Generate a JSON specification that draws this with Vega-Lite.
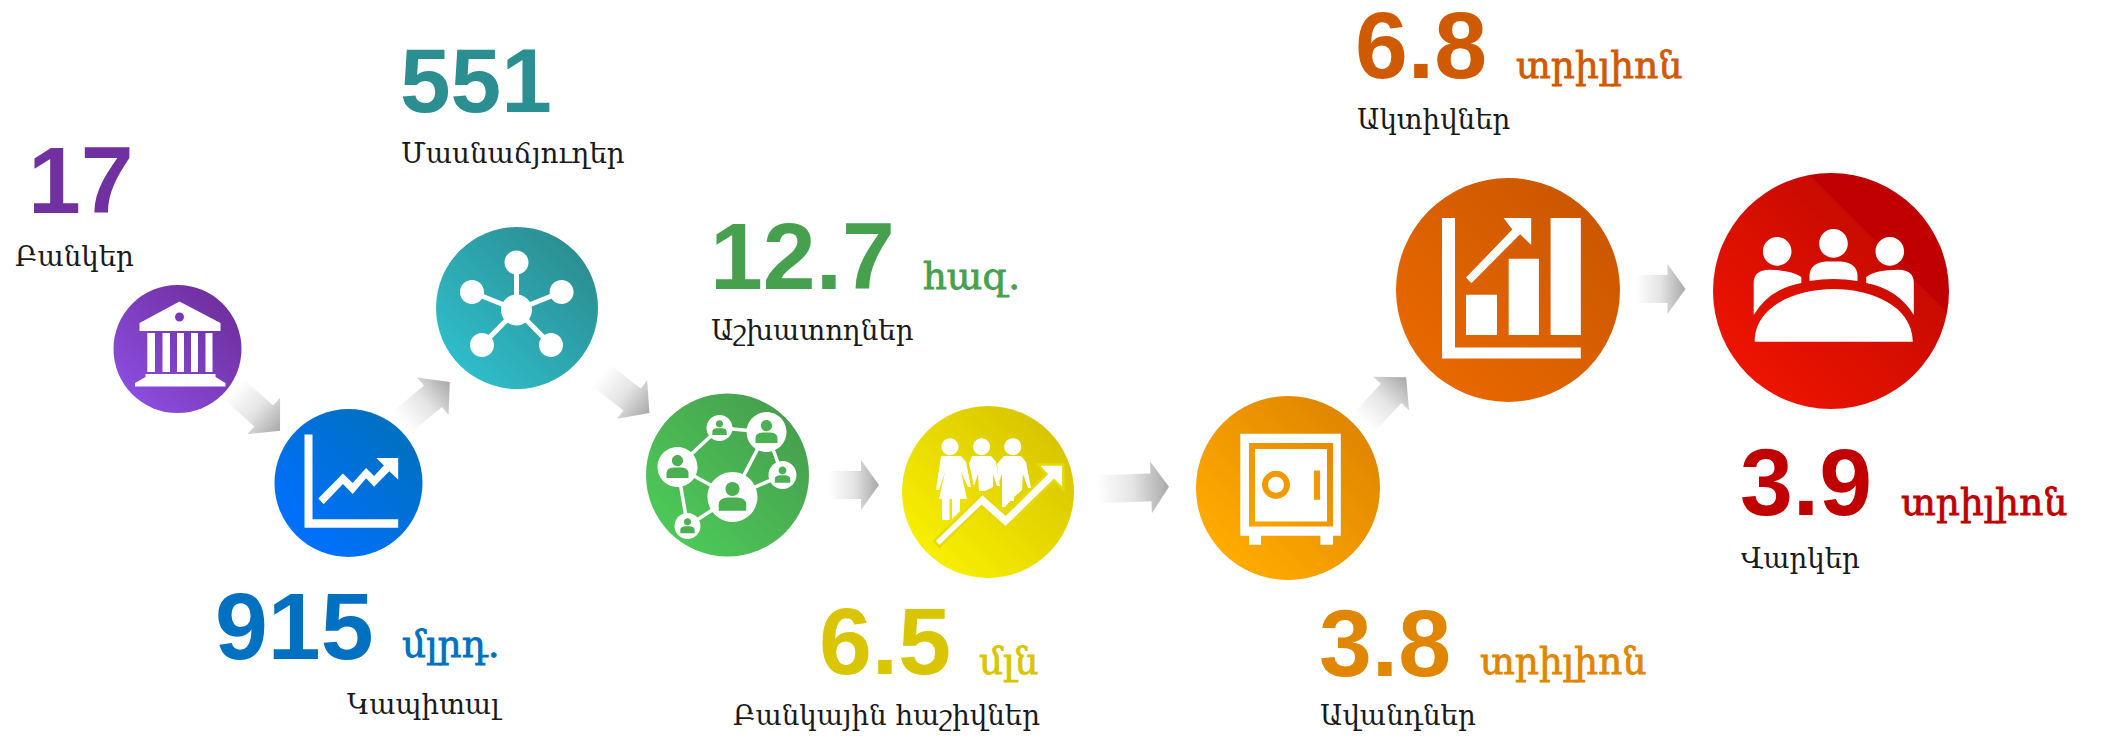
{
"$schema":"https://vega.github.io/schema/vega-lite/v6.json",
"width":2102,"height":739,"padding":0,"autosize":{"type":"none"},
"background":"white",
"config":{"view":{"stroke":null}},
"datasets":{
"nodes":[
{"item":"Բանկեր","x":177.5,"y":349},
{"item":"Կապիտալ","x":348.5,"y":483},
{"item":"Մասնաճյուղեր","x":517,"y":308},
{"item":"Աշխատողներ","x":727.5,"y":475},
{"item":"Բանկային հաշիվներ","x":988,"y":492},
{"item":"Ավանդներ","x":1288,"y":488},
{"item":"Ակտիվներ","x":1508,"y":290},
{"item":"Վարկեր","x":1831,"y":291}
],
"arrows":[
{"group":"short","x":257,"y":410,"angle":42},
{"group":"short","x":426,"y":402,"angle":-40},
{"group":"short","x":625,"y":394,"angle":38},
{"group":"short","x":1385,"y":400,"angle":-47},
{"group":"mid","x":854,"y":485,"angle":0},
{"group":"mid","x":1660.5,"y":289,"angle":0},
{"group":"long","x":1133,"y":488,"angle":-2}
],
"texts":[
{"item":"Բանկեր","kind":"number","text":"17","x":28,"y":213},
{"item":"Բանկեր","kind":"label","text":"Բանկեր","x":15,"y":266},
{"item":"Մասնաճյուղեր","kind":"number2","text":"551","x":400,"y":112},
{"item":"Մասնաճյուղեր","kind":"label","text":"Մասնաճյուղեր","x":401,"y":163},
{"item":"Կապիտալ","kind":"number","text":"915","x":215,"y":659},
{"item":"Կապիտալ","kind":"unit","text":"մլրդ.","x":402,"y":657},
{"item":"Կապիտալ","kind":"label","text":"Կապիտալ","x":347,"y":714},
{"item":"Աշխատողներ","kind":"number","text":"12.7","x":710,"y":289},
{"item":"Աշխատողներ","kind":"unit","text":"հազ.","x":923,"y":289},
{"item":"Աշխատողներ","kind":"label","text":"Աշխատողներ","x":711,"y":340},
{"item":"Բանկային հաշիվներ","kind":"number","text":"6.5","x":819,"y":674},
{"item":"Բանկային հաշիվներ","kind":"unit","text":"մլն","x":979,"y":674},
{"item":"Բանկային հաշիվներ","kind":"label","text":"Բանկային հաշիվներ","x":733,"y":725},
{"item":"Ավանդներ","kind":"number","text":"3.8","x":1319,"y":676},
{"item":"Ավանդներ","kind":"unit","text":"տրիլիոն","x":1480,"y":674},
{"item":"Ավանդներ","kind":"label","text":"Ավանդներ","x":1320,"y":725},
{"item":"Ակտիվներ","kind":"number","text":"6.8","x":1355,"y":78},
{"item":"Ակտիվներ","kind":"unit","text":"տրիլիոն","x":1516,"y":78},
{"item":"Ակտիվներ","kind":"label","text":"Ակտիվներ","x":1357,"y":129},
{"item":"Վարկեր","kind":"number","text":"3.9","x":1740,"y":515},
{"item":"Վարկեր","kind":"unit","text":"տրիլիոն","x":1901,"y":515},
{"item":"Վարկեր","kind":"label","text":"Վարկեր","x":1741,"y":568}
]
},
"encoding":{
"x":{"field":"x","type":"quantitative","axis":null,"scale":{"domain":[0,2102],"range":[0,2102],"nice":false,"zero":false}},
"y":{"field":"y","type":"quantitative","axis":null,"scale":{"domain":[0,739],"range":[0,739],"nice":false,"zero":false}}
},
"layer":[
{"data":{"name":"arrows"},"transform":[{"filter":"datum.group==='short'"}],
"mark":{"type":"point","filled":true,"opacity":1,"size":4,"shape":"M-31 -14 L9 -14 L9 -24.5 L31 0 L9 24.5 L9 14 L-31 14 Z","color":{"gradient":"linear","x1":0,"y1":0,"x2":1,"y2":0,"stops":[{"offset":0,"color":"#ffffff"},{"offset":0.5,"color":"#e4e4e4"},{"offset":1,"color":"#a8a8a8"}]}},
"encoding":{"angle":{"field":"angle","type":"quantitative","scale":null}}},
{"data":{"name":"arrows"},"transform":[{"filter":"datum.group==='mid'"}],
"mark":{"type":"point","filled":true,"opacity":1,"size":4,"shape":"M-25 -14 L7 -14 L7 -25 L25 0 L7 25 L7 14 L-25 14 Z","color":{"gradient":"linear","x1":0,"y1":0,"x2":1,"y2":0,"stops":[{"offset":0,"color":"#ffffff"},{"offset":0.5,"color":"#e4e4e4"},{"offset":1,"color":"#a8a8a8"}]}},
"encoding":{"angle":{"field":"angle","type":"quantitative","scale":null}}},
{"data":{"name":"arrows"},"transform":[{"filter":"datum.group==='long'"}],
"mark":{"type":"point","filled":true,"opacity":1,"size":4,"shape":"M-36 -14 L18 -14 L18 -26 L36 0 L18 26 L18 14 L-36 14 Z","color":{"gradient":"linear","x1":0,"y1":0,"x2":1,"y2":0,"stops":[{"offset":0,"color":"#ffffff"},{"offset":0.5,"color":"#e4e4e4"},{"offset":1,"color":"#a8a8a8"}]}},
"encoding":{"angle":{"field":"angle","type":"quantitative","scale":null}}},

{"data":{"name":"nodes"},"transform":[{"filter":"datum.item==='Բանկեր'"}],
"mark":{"type":"point","filled":true,"opacity":1,"shape":"circle","size":16384,"color":{"gradient":"linear","x1":0,"y1":1,"x2":1,"y2":0,"stops":[{"offset":0.15,"color":"#8a4cdc"},{"offset":0.85,"color":"#7030a0"}]}}},
{"data":{"name":"nodes"},"transform":[{"filter":"datum.item==='Կապիտալ'"}],
"mark":{"type":"point","filled":true,"opacity":1,"shape":"circle","size":21904,"color":{"gradient":"linear","x1":0,"y1":1,"x2":1,"y2":0,"stops":[{"offset":0.15,"color":"#0070ff"},{"offset":0.85,"color":"#0070c0"}]}}},
{"data":{"name":"nodes"},"transform":[{"filter":"datum.item==='Մասնաճյուղեր'"}],
"mark":{"type":"point","filled":true,"opacity":1,"shape":"circle","size":26244,"color":{"gradient":"linear","x1":0,"y1":1,"x2":1,"y2":0,"stops":[{"offset":0.15,"color":"#2fbcca"},{"offset":0.85,"color":"#2b8f92"}]}}},
{"data":{"name":"nodes"},"transform":[{"filter":"datum.item==='Աշխատողներ'"}],
"mark":{"type":"point","filled":true,"opacity":1,"shape":"circle","size":26569,"color":{"gradient":"linear","x1":0,"y1":1,"x2":1,"y2":0,"stops":[{"offset":0.15,"color":"#4dc858"},{"offset":0.85,"color":"#47a04e"}]}}},
{"data":{"name":"nodes"},"transform":[{"filter":"datum.item==='Բանկային հաշիվներ'"}],
"mark":{"type":"point","filled":true,"opacity":1,"shape":"circle","size":29584,"color":{"gradient":"linear","x1":0,"y1":1,"x2":1,"y2":0,"stops":[{"offset":0.15,"color":"#f7ef00"},{"offset":0.85,"color":"#d9c500"}]}}},
{"data":{"name":"nodes"},"transform":[{"filter":"datum.item==='Ավանդներ'"}],
"mark":{"type":"point","filled":true,"opacity":1,"shape":"circle","size":33856,"color":{"gradient":"linear","x1":0,"y1":1,"x2":1,"y2":0,"stops":[{"offset":0.15,"color":"#ffab00"},{"offset":0.85,"color":"#e08600"}]}}},
{"data":{"name":"nodes"},"transform":[{"filter":"datum.item==='Ակտիվներ'"}],
"mark":{"type":"point","filled":true,"opacity":1,"shape":"circle","size":50176,"color":{"gradient":"linear","x1":0,"y1":1,"x2":1,"y2":0,"stops":[{"offset":0.15,"color":"#e86800"},{"offset":0.85,"color":"#cc5700"}]}}},
{"data":{"name":"nodes"},"transform":[{"filter":"datum.item==='Վարկեր'"}],
"mark":{"type":"point","filled":true,"opacity":1,"shape":"circle","size":55696,"color":{"gradient":"linear","x1":0,"y1":1,"x2":1,"y2":0,"stops":[{"offset":0.15,"color":"#ec1400"},{"offset":0.7,"color":"#c90b00"},{"offset":0.7,"color":"#c00000"},{"offset":0.85,"color":"#c00000"}]}}},

{"data":{"name":"nodes"},"transform":[{"filter":"datum.item==='Բանկեր'"}],
"mark":{"type":"point","filled":true,"opacity":1,"size":4,"color":"white","shape":"M2 -47.4 L43 -26 L43 -18 L-38 -18 L-38 -26 Z M-2.5 -32 a4.5 4.5 0 1 0 9 0 a4.5 4.5 0 1 0 -9 0 Z M-30.2 -16 L-22.5 -16 L-22.5 23 L-30.2 23 Z M-15 -16 L-7.5 -16 L-7.5 23 L-15 23 Z M-0.5 -16 L6.5 -16 L6.5 23 L-0.5 23 Z M13.5 -16 L20.5 -16 L20.5 23 L13.5 23 Z M28 -16 L35 -16 L35 23 L28 23 Z M-32 25 L38 25 L38 28 L48 34 L48 37.4 L-42.5 37.4 L-42.5 34 L-32 28 Z"}},
{"data":{"name":"nodes"},"transform":[{"filter":"datum.item==='Կապիտալ'"}],
"mark":{"type":"point","filled":true,"opacity":1,"size":4,"color":"white","shape":"M-44 -48.5 L-36 -48.5 L-36 36.3 L49.7 36.3 L49.7 44.8 L-44 44.8 Z M-30.2 15.6 L-5.6 -9.4 L4.2 0 L17.6 -15 L25.6 -7 L35.4 -17.4 L27.8 -25 L49.7 -25 L49.7 -3.3 L40.8 -11.7 L25.6 3.8 L17.6 -4.7 L4.2 10.9 L-5.6 1 L-24.8 21.2 Z"}},
{"data":{"name":"nodes"},"transform":[{"filter":"datum.item==='Մասնաճյուղեր'"}],
"mark":{"type":"point","filled":false,"opacity":1,"size":4,"stroke":"white","strokeWidth":5,"shape":"M-0.5 2 L-0.5 -45.5 M-0.5 2 L-45 -16 M-0.5 2 L44.6 -16 M-0.5 2 L-35 37 M-0.5 2 L34 37"}},
{"data":{"name":"nodes"},"transform":[{"filter":"datum.item==='Մասնաճյուղեր'"}],
"mark":{"type":"point","filled":true,"opacity":1,"size":4,"color":"white","shape":"M-16 2 a15.5 15.5 0 1 1 31 0 a15.5 15.5 0 1 1 -31 0 Z M-12.5 -45.5 a12 12 0 1 1 24 0 a12 12 0 1 1 -24 0 Z M-57 -16 a12 12 0 1 1 24 0 a12 12 0 1 1 -24 0 Z M32.6 -16 a12 12 0 1 1 24 0 a12 12 0 1 1 -24 0 Z M-47 37 a12 12 0 1 1 24 0 a12 12 0 1 1 -24 0 Z M22 37 a12 12 0 1 1 24 0 a12 12 0 1 1 -24 0 Z"}},
{"data":{"name":"nodes"},"transform":[{"filter":"datum.item==='Աշխատողներ'"}],
"mark":{"type":"point","filled":false,"opacity":1,"size":4,"stroke":"white","strokeWidth":3.5,"shape":"M-8 -47 L39 -43 L5 22 L-50 -8 L-8 -47 M-50 -8 L-40 51 L5 22 L55 0 L39 -43"}},
{"data":{"name":"nodes"},"transform":[{"filter":"datum.item==='Աշխատողներ'"}],
"mark":{"type":"point","filled":true,"opacity":1,"size":4,"color":"white","shape":"M-21 -47 a13 13 0 1 1 26 0 a13 13 0 1 1 -26 0 Z M19 -43 a20 20 0 1 1 40 0 a20 20 0 1 1 -40 0 Z M-70 -8 a20 20 0 1 1 40 0 a20 20 0 1 1 -40 0 Z M-20 22 a25 25 0 1 1 50 0 a25 25 0 1 1 -50 0 Z M41 0 a14 14 0 1 1 28 0 a14 14 0 1 1 -28 0 Z M-53 51 a13 13 0 1 1 26 0 a13 13 0 1 1 -26 0 Z"}},
{"data":{"name":"nodes"},"transform":[{"filter":"datum.item==='Աշխատողներ'"}],
"mark":{"type":"point","filled":true,"opacity":1,"size":4,"color":"#4ab052","shape":"M-11.6 -51.2 a3.6 3.6 0 1 1 7.2 0 a3.6 3.6 0 1 1 -7.2 0 Z M-15.2 -39.9 L-15.2 -43.1 Q-15.2 -46.4 -10.6 -46.7 L-5.4 -46.7 Q-0.8 -46.4 -0.8 -43.1 L-0.8 -39.9 Z M33.4 -49.4 a5.6 5.6 0 1 1 11.2 0 a5.6 5.6 0 1 1 -11.2 0 Z M28 -32 L28 -37 Q28 -42 35 -42.6 L43 -42.6 Q50 -42 50 -37 L50 -32 Z M-55.6 -14.4 a5.6 5.6 0 1 1 11.2 0 a5.6 5.6 0 1 1 -11.2 0 Z M-61 3 L-61 -2 Q-61 -7 -54 -7.6 L-46 -7.6 Q-39 -7 -39 -2 L-39 3 Z M-2 14 a7 7 0 1 1 14 0 a7 7 0 1 1 -14 0 Z M-8.75 35.75 L-8.75 29.5 Q-8.75 23.25 0 22.5 L10 22.5 Q18.75 23.25 18.75 29.5 L18.75 35.75 Z M51.1 -4.5 a3.9 3.9 0 1 1 7.8 0 a3.9 3.9 0 1 1 -7.8 0 Z M47.3 7.7 L47.3 4.2 Q47.3 0.7 52.2 0.3 L57.8 0.3 Q62.7 0.7 62.7 4.2 L62.7 7.7 Z M-43.6 46.8 a3.6 3.6 0 1 1 7.2 0 a3.6 3.6 0 1 1 -7.2 0 Z M-47.2 58.2 L-47.2 55 Q-47.2 51.7 -42.6 51.3 L-37.4 51.3 Q-32.8 51.7 -32.8 55 L-32.8 58.2 Z"}},
{"data":{"name":"nodes"},"transform":[{"filter":"datum.item==='Բանկային հաշիվներ'"}],
"mark":{"type":"point","filled":true,"opacity":1,"size":4,"color":"white","shape":"M-46.5 -45.3 a8.5 8.5 0 1 1 17 0 a8.5 8.5 0 1 1 -17 0 Z M-14.9 -45.3 a8.5 8.5 0 1 1 17 0 a8.5 8.5 0 1 1 -17 0 Z M16.3 -45.3 a8.5 8.5 0 1 1 17 0 a8.5 8.5 0 1 1 -17 0 Z M-47 -36 L-27 -36 L-22 -30 L-17 -5 L-20 -5 L-27 -20 L-21 7 L-28 7 L-28 19 L-36 27 L-36 7 L-38.5 7 L-38.5 28 L-46 28 L-46 7 L-49 7 L-43 -20 L-49 -2 L-52 -2 Z M-16 -36 L3 -36 L8 -30 L12 -6 L9 -6 L5 -18 L5 -5 L-3 -1 L-9 -1 L-10 -18 L-14 -6 L-19 -28 Z M16 -36 L33 -36 L38 -30 L43 -4 L40 -4 L35 -18 L34 -2 L26 5 L26 9 L22 9 L17 15 L14 15 L14 -2 L14 -18 L11 -10 L9 -28 Z"}},
{"data":{"name":"nodes"},"transform":[{"filter":"datum.item==='Բանկային հաշիվներ'"}],
"mark":{"type":"point","filled":true,"opacity":1,"size":4,"color":"white","stroke":"#e8da00","strokeWidth":2.5,"shape":"M-53.8 48.8 L-5.4 1.7 L17.6 22.4 L58.4 -17.9 L49.8 -27.5 L75.3 -27.5 L75.3 -2.5 L66 -11.8 L17.6 35.6 L-6.4 14.2 L-48.7 54.6 Z"}},
{"data":{"name":"nodes"},"transform":[{"filter":"datum.item==='Ավանդներ'"}],
"mark":{"type":"point","filled":true,"opacity":1,"size":4,"color":"white","shape":"M-47.7 -54.2 L52.8 -54.2 L52.8 47.8 L-47.7 47.8 Z M-39 -45 L-39 38.5 L45 38.5 L45 -45 Z M-33 -39 L39 -39 L39 33.5 L-33 33.5 Z M-39 47 L-27 47 L-27 56.7 L-39 56.7 Z M32.4 47 L45 47 L45 56.7 L32.4 56.7 Z"}},
{"data":{"name":"nodes"},"transform":[{"filter":"datum.item==='Ավանդներ'"}],
"mark":{"type":"point","filled":true,"opacity":1,"size":4,"color":"#f09a00","shape":"M-26 -3.2 a14 14 0 1 1 28 0 a14 14 0 1 1 -28 0 Z M-20 -3.2 a8 8 0 1 0 16 0 a8 8 0 1 0 -16 0 Z M26 -17.4 L32 -17.4 L32 11.8 L26 11.8 Z"}},
{"data":{"name":"nodes"},"transform":[{"filter":"datum.item==='Ակտիվներ'"}],
"mark":{"type":"point","filled":true,"opacity":1,"size":4,"color":"white","shape":"M-66 -72 L-53 -72 L-53 57.5 L72.8 57.5 L72.8 68.6 L-66 68.6 Z M-42 4.7 L-11 4.7 L-11 44.9 L-42 44.9 Z M0.7 -31.3 L30.9 -31.3 L30.9 44.9 L0.7 44.9 Z M42.6 -72 L72.8 -72 L72.8 44.9 L42.6 44.9 Z M-42 -12.5 L4.3 -60.4 L-4.4 -71.9 L23.2 -71.9 L23.2 -45.1 L12 -55.8 L-36.6 -6.8 Z"}},
{"data":{"name":"nodes"},"transform":[{"filter":"datum.item==='Վարկեր'"}],
"mark":{"type":"point","filled":true,"opacity":1,"size":4,"color":"white","shape":"M-68.1 -39.6 a14.3 14.3 0 1 1 28.6 0 a14.3 14.3 0 1 1 -28.6 0 Z M-11.8 -47.6 a14.3 14.3 0 1 1 28.6 0 a14.3 14.3 0 1 1 -28.6 0 Z M44.5 -39.6 a14.3 14.3 0 1 1 28.6 0 a14.3 14.3 0 1 1 -28.6 0 Z M-76.3 50.8 C-76.3 15 -35 -2 2.75 -2 C40 -2 81.8 15 81.8 50.8 Z M-21.5 -10 L-21.5 -15 Q-21.5 -28 -5 -29.6 L10 -29.6 Q26.5 -28 26.5 -15 L26.5 -10 Q2.5 -14 -21.5 -10 Z M-77.3 24 L-77.3 -8 Q-77.3 -21 -62 -21.2 Q-40 -21.2 -29.7 -14 L-29.7 -8 Q-62 -2 -77.3 24 Z M82.8 24 L82.8 -8 Q82.8 -21 67.5 -21.2 Q45 -21.2 35.2 -14 L35.2 -8 Q67 -2 82.8 24 Z"}},

{"data":{"name":"texts"},"transform":[{"filter":"datum.kind==='number'"}],
"mark":{"type":"text","align":"left","baseline":"alphabetic","font":"Liberation Sans","fontWeight":"bold","fontSize":95},
"encoding":{"text":{"field":"text"},"color":{"field":"item","type":"nominal","legend":null,"scale":{"domain":["Բանկեր","Կապիտալ","Մասնաճյուղեր","Աշխատողներ","Բանկային հաշիվներ","Ավանդներ","Ակտիվներ","Վարկեր"],"range":["#7030a0","#0070c0","#2b8f92","#47a04e","#d9c500","#e08600","#d05a00","#c00000"]}}}},
{"data":{"name":"texts"},"transform":[{"filter":"datum.kind==='number2'"}],
"mark":{"type":"text","align":"left","baseline":"alphabetic","font":"Liberation Sans","fontWeight":"bold","fontSize":91},
"encoding":{"text":{"field":"text"},"color":{"field":"item","type":"nominal","legend":null}}},
{"data":{"name":"texts"},"transform":[{"filter":"datum.kind==='unit'"}],
"mark":{"type":"text","align":"left","baseline":"alphabetic","font":"DejaVu Serif","fontSize":37.5,"strokeWidth":0.8},
"encoding":{"text":{"field":"text"},"color":{"field":"item","type":"nominal","legend":null},"stroke":{"field":"item","type":"nominal","legend":null,"scale":{"domain":["Բանկեր","Կապիտալ","Մասնաճյուղեր","Աշխատողներ","Բանկային հաշիվներ","Ավանդներ","Ակտիվներ","Վարկեր"],"range":["#7030a0","#0070c0","#2b8f92","#47a04e","#d9c500","#e08600","#d05a00","#c00000"]}}}},
{"data":{"name":"texts"},"transform":[{"filter":"datum.kind==='label'"}],
"mark":{"type":"text","align":"left","baseline":"alphabetic","font":"DejaVu Serif","fontSize":27.7,"color":"#1a1a1a"},
"encoding":{"text":{"field":"text"}}}
]
}
